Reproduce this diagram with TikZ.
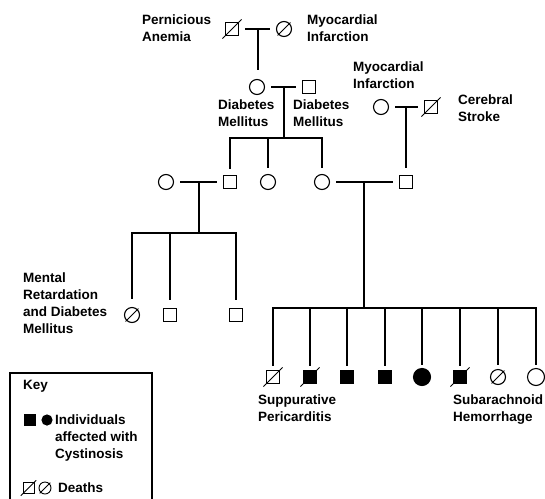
\documentclass[tikz,border=0pt]{standalone}
\usepackage{fontspec}
\setmainfont{Liberation Sans}
\begin{document}
\begin{tikzpicture}[x=1pt,y=-1pt,
  male/.style={draw,rectangle,minimum size=13pt,inner sep=0pt,line width=1.1pt},
  female/.style={draw,circle,minimum size=15pt,inner sep=0pt,line width=1.1pt},
  affected/.style={fill=black},
  bigc/.style={minimum size=17pt},
  link/.style={line width=2.6pt,line cap=rect},
  marriage/.style={line width=2.6pt,shorten <=6pt,shorten >=6pt},
  drop/.style={line width=2.6pt,line cap=rect,shorten >=7pt},
  slashsq/.style={line width=1pt,shorten <=-3.5pt,shorten >=-3.5pt},
  slashci/.style={line width=1pt,shorten <=-1pt,shorten >=-1pt},
  lbl/.style={anchor=north west,inner sep=0pt,align=left,font=\fontsize{13.5}{17}\selectfont\bfseries},
  keybox/.style={line width=2pt}]
\useasboundingbox (0,0) rectangle (545,498);
% Generation I
\node[male] (g1m) at (232,29) {};
\node[female] (g1f) at (284,29) {};
\draw[slashsq] (g1m.south west) -- (g1m.north east);
\draw[slashci] (g1f.south west) -- (g1f.north east);
\draw[marriage] (g1m) -- (g1f);
\coordinate (m1) at (258,29);
\coordinate (d1) at (258,70);
\draw[link,line cap=butt] (m1) -- (d1);
\node[lbl] (tPA) at (142,15) {Pernicious\\Anemia};
\node[lbl] (tMI1) at (307,15) {Myocardial\\Infarction};
% Generation II left couple
\node[female] (g2f) at (257,87) {};
\node[male] (g2m) at (309,87) {};
\draw[marriage] (g2f) -- (g2m);
\coordinate (m2) at (284,87);
\coordinate (s2) at (284,138);
\draw[link,line cap=butt] (m2) -- (s2);
\node[lbl] (tDM1) at (218,100) {Diabetes\\Mellitus};
\node[lbl] (tDM2) at (293,100) {Diabetes\\Mellitus};
% Generation II right couple
\node[female] (g2rf) at (381,107) {};
\node[male] (g2rm) at (431,107) {};
\draw[slashsq] (g2rm.south west) -- (g2rm.north east);
\draw[marriage] (g2rf) -- (g2rm);
\node[lbl] (tMI2) at (353,62) {Myocardial\\Infarction};
\node[lbl] (tCS) at (458,95) {Cerebral\\Stroke};
% Generation III
\node[female] (g3w) at (166,182) {};
\node[male] (g3a) at (230,182) {};
\node[female] (g3b) at (268,182) {};
\node[female] (g3c) at (322,182) {};
\node[male] (g3d) at (406,182) {};
\coordinate (m2r) at (406,107);
\coordinate (s2l) at (230,138);
\coordinate (s2r) at (322,138);
\draw[link] (s2l) -- (s2r);
\draw[drop] (s2l) -- (g3a.north);
\draw[drop] (g3b |- s2) -- (g3b.north);
\draw[drop] (s2r) -- (g3c.north);
\draw[drop,line cap=butt] (m2r) -- (g3d.north);
% left Gen III couple
\draw[marriage] (g3w) -- (g3a);
\coordinate (m3l) at (199,182);
\coordinate (s3l) at (199,233);
\draw[link,line cap=butt] (m3l) -- (s3l);
% right Gen III couple
\draw[marriage] (g3c) -- (g3d);
\coordinate (m3r) at (364,182);
\coordinate (s3r) at (364,308);
\draw[link,line cap=butt] (m3r) -- (s3r);
% Generation IV left
\node[female] (c1) at (132,315) {};
\node[male] (c2) at (170,315) {};
\node[male] (c3) at (236,315) {};
\draw[slashci] (c1.south west) -- (c1.north east);
\coordinate (s3la) at (132,233);
\coordinate (s3lc) at (236,233);
\draw[link] (s3la) -- (s3lc);
\draw[drop,shorten >=9pt] (s3la) -- (c1.north);
\draw[drop,shorten >=9pt] (c2 |- s3l) -- (c2.north);
\draw[drop,shorten >=9pt] (s3lc) -- (c3.north);
\node[lbl] (tMR) at (23,273) {Mental\\Retardation\\and Diabetes\\Mellitus};
% Generation IV right
\node[male] (k1) at (273,377) {};
\node[male,affected] (k2) at (310,377) {};
\node[male,affected] (k3) at (347,377) {};
\node[male,affected] (k4) at (385,377) {};
\node[female,affected,bigc] (k5) at (422,377) {};
\node[male,affected] (k6) at (460,377) {};
\node[female] (k7) at (498,377) {};
\node[female,bigc] (k8) at (536,377) {};
\draw[slashsq] (k1.south west) -- (k1.north east);
\draw[slashsq] (k2.south west) -- (k2.north east);
\draw[slashsq] (k6.south west) -- (k6.north east);
\draw[slashci] (k7.south west) -- (k7.north east);
\coordinate (s4a) at (273,308);
\coordinate (s4b) at (536,308);
\draw[link] (s4a) -- (s4b);
\draw[drop,shorten >=5pt] (s4a) -- (k1.north);
\foreach \k in {k2,k3,k4,k6}{\draw[drop,shorten >=5pt] (\k |- s3r) -- (\k.north);}
\draw[drop,shorten >=4pt] (k5 |- s3r) -- (k5.north);
\draw[drop,shorten >=5pt] (k7 |- s3r) -- (k7.north);
\draw[drop,shorten >=4pt] (s4b) -- (k8.north);
\node[lbl] (tSP) at (258,395) {Suppurative\\Pericarditis};
\node[lbl] (tSH) at (453,395) {Subarachnoid\\Hemorrhage};
% Key
\draw[keybox] (10,520) -- (10,373) -- (152,373) -- (152,520);
\node[lbl] (tKey) at (23,380) {Key};
\node[male,affected,minimum size=10pt] (ks) at (30,420) {};
\node[female,affected,minimum size=10pt] (kc) at (47,420) {};
\node[lbl] (tInd) at (55,415) {Individuals\\affected with\\Cystinosis};
\node[male,minimum size=11pt,line width=0.9pt] (kds) at (28.5,488) {};
\node[female,minimum size=12pt,line width=0.9pt] (kdc) at (45,488) {};
\draw[slashsq,line width=0.8pt,shorten <=-2.5pt,shorten >=-2.5pt] (kds.south west) -- (kds.north east);
\draw[slashci,line width=0.8pt] (kdc.south west) -- (kdc.north east);
\node[lbl] (tDe) at (58,483) {Deaths};
\end{tikzpicture}
\end{document}
